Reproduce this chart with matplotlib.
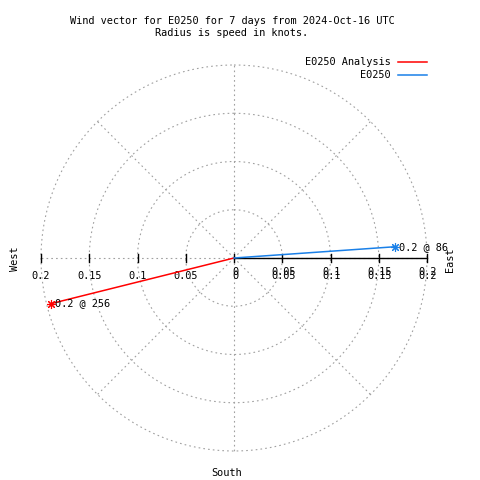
import numpy as np
import matplotlib.pyplot as plt

# Wind vectors: speed in knots, direction in degrees (from north, clockwise)
names = ['E0250 Analysis', 'E0250']
speeds = [0.195, 0.167]
directions = [256, 86]
colors = ['#ff0000', '#1a80e8']

rings = [0.05, 0.1, 0.15, 0.2]
spokes = [0, 45, 90, 135, 180, 225, 270, 315]
r_ticks = [0, 0.05, 0.1, 0.15, 0.2]

title = 'Wind vector for E0250 for 7 days from 2024-Oct-16 UTC\nRadius is speed in knots.'

plt.rcParams['font.family'] = ['DejaVu Sans Mono']
FS = 7.4
GRID = '#a0a0a0'

fig = plt.figure(figsize=(4.8, 4.8), dpi=100)
ax = fig.add_axes([0, 0, 1, 1])

# pixel layout of the polar area
scale = 965.0          # pixels per knot
cx, cy = 234, 258      # centre, pixels from top-left
ax.set_xlim(-cx / scale, (480 - cx) / scale)
ax.set_ylim(-(480 - cy) / scale, cy / scale)
ax.axis('off')

# grid circles and spokes
t = np.linspace(0, 2 * np.pi, 400)
for r in rings:
    ax.plot(r * np.sin(t), r * np.cos(t), color=GRID, lw=0.8, ls=(0, (1.5, 2.8)), zorder=1)
rmax = max(rings)
for a in spokes:
    a_rad = np.radians(a)
    ax.plot([0, rmax * np.sin(a_rad)], [0, rmax * np.cos(a_rad)],
            color=GRID, lw=0.8, ls=(0, (1.5, 2.8)), zorder=1)

# radial axis (east side solid) with ticks on both sides
ax.plot([0, rmax], [0, 0], color='black', lw=1.0, zorder=2)
tick = 4 / scale
for v in r_ticks:
    for x in {v, -v}:
        ax.plot([x, x], [-tick, tick], color='black', lw=1.0, zorder=2)
    lab = f'{v:g}'
    # west side labels
    if v > 0:
        ax.annotate(lab, (-v, 0), xytext=(0, -18), textcoords='offset pixels',
                    ha='center', va='center', fontsize=FS)
    # east side labels are drawn twice, slightly offset (as in the original)
    for dy in (-18, -14):
        ax.annotate(lab, (v, 0), xytext=(1, dy), textcoords='offset pixels',
                    ha='center', va='center', fontsize=FS)

# wind vectors
for name, s, d, c in zip(names, speeds, directions, colors):
    d_rad = np.radians(d)
    x, y = s * np.sin(d_rad), s * np.cos(d_rad)
    ax.plot([0, x], [0, y], color=c, lw=1.1, zorder=3)
    ax.plot([x], [y], marker=(8, 2, 0), color=c, ms=6.5, mew=0.8, zorder=4)
    ax.annotate(f'{s:.1f} @ {d:.0f}', (x, y), xytext=(4, 0), textcoords='offset pixels',
                ha='left', va='center', fontsize=FS)

# compass labels
fig.text(15 / 480, 1 - 259 / 480, 'West', rotation=90, ha='center', va='center', fontsize=FS)
fig.text(450 / 480, 1 - 260 / 480, 'East', rotation=90, ha='center', va='center', fontsize=FS)
fig.text(227 / 480, 1 - 473 / 480, 'South', ha='center', va='center', fontsize=FS)

# title
fig.text(232 / 480, 1 - 27 / 480, title, ha='center', va='center', fontsize=FS, linespacing=1.3)

# legend
for i, (name, c) in enumerate(zip(names, colors)):
    ypx = 62 + 13 * i
    fig.text(391 / 480, 1 - ypx / 480, name, ha='right', va='center', fontsize=FS)
    fig.add_artist(plt.Line2D([398 / 480, 427 / 480], [1 - ypx / 480] * 2, color=c, lw=1.1))

fig.savefig('out.png', dpi=100)
